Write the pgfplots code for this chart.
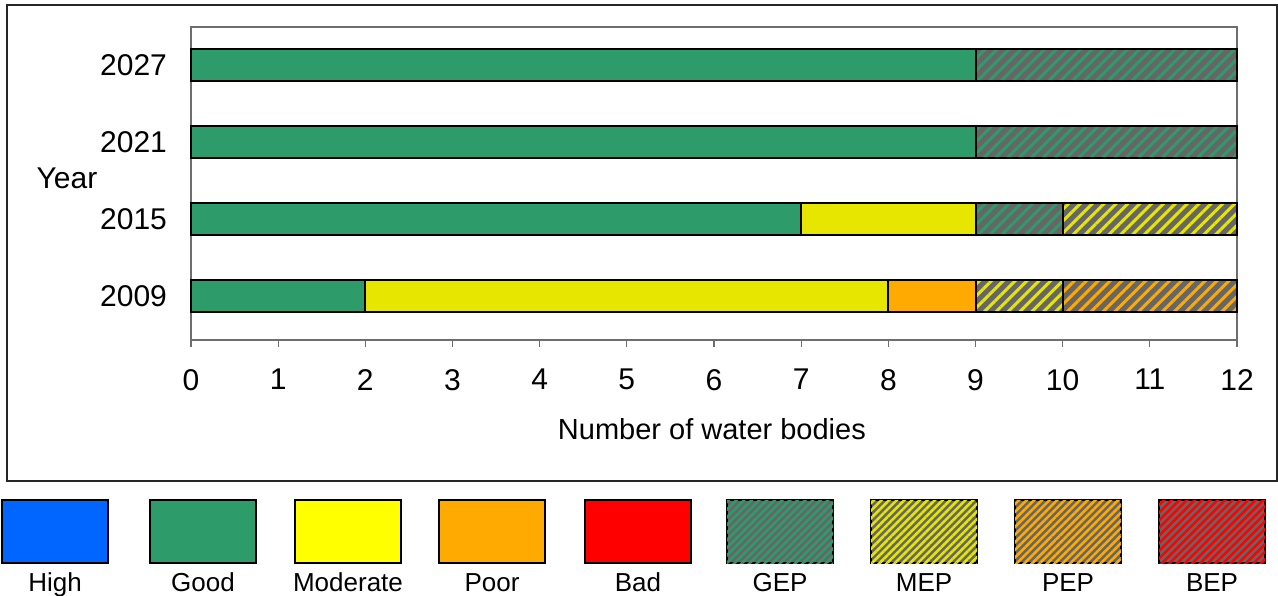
\documentclass[border=0pt]{standalone}
\usepackage{fontspec}
\setmainfont{Liberation Sans}
\usepackage{pgfplots}
\pgfplotsset{compat=1.18}
\usetikzlibrary{patterns.meta}
\definecolor{cHigh}{RGB}{0,102,255}
\definecolor{cGood}{RGB}{46,155,107}
\definecolor{cMod}{RGB}{230,230,0}
\definecolor{cModL}{RGB}{255,255,0}
\definecolor{cPoor}{RGB}{255,170,0}
\definecolor{cBad}{RGB}{255,0,0}
\definecolor{cHatch}{RGB}{102,102,102}
\definecolor{cAxis}{RGB}{110,110,110}
\tikzset{
  barhatch/.style={fill=cHatch, postaction={pattern={Lines[angle=45,distance=4.2pt,line width=1.5pt]}, pattern color=#1}},
  leghatch/.style={fill=cHatch, postaction={pattern={Lines[angle=45,distance=2.7pt,line width=1.3pt]}, pattern color=#1}},
  lgHigh/.style={fill=cHigh},
  lgGood/.style={fill=cGood},
  lgMod/.style={fill=cModL},
  lgPoor/.style={fill=cPoor},
  lgBad/.style={fill=cBad},
  lgGEP/.style={leghatch=cGood},
  lgMEP/.style={leghatch=cMod},
  lgPEP/.style={leghatch=cPoor},
  lgBEP/.style={leghatch=cBad},
}
\begin{document}
\begin{tikzpicture}
\begin{scope}[x=0.5pt,y=-0.5pt]
\useasboundingbox (0,0) rectangle (1278,595);
\draw[black!85, line width=0.7pt] (7,5) rectangle (1277,481);
\foreach \cx/\lab/\sty in {55/High/lgHigh,203/Good/lgGood,348/Moderate/lgMod,492/Poor/lgPoor,638/Bad/lgBad,780/GEP/lgGEP,924/MEP/lgMEP,1068/PEP/lgPEP,1212/BEP/lgBEP}{
  \draw[\sty, line width=1pt] (\cx-53,500) rectangle (\cx+53,563);
  \node[font=\fontsize{13}{15}\selectfont, anchor=base, inner sep=0pt] at (\cx,591) {\lab};
}
\end{scope}
\begin{axis}[
  at={(95.5pt,-170pt)}, anchor=south west,
  scale only axis, width=523pt, height=156.5pt,
  xbar stacked, bar width=16pt,
  xmin=0, xmax=12, ymin=-0.57, ymax=3.49,
  clip=false,
  axis line style={cAxis, line width=0.6pt},
  xtick={0,1,...,12}, xtick pos=lower, tick align=outside,
  major tick length=3.5pt,
  xtick style={cAxis, line width=0.6pt},
  ytick={0,1,2,3}, yticklabels={2009,2015,2021,2027},
  ytick style={draw=none},
  tick label style={font=\fontsize{15}{18}\selectfont},
  /pgf/number format/assume math mode=true,
  yticklabel style={xshift=-5pt},
  xticklabel style={yshift=-7.5pt},
  xlabel={Number of water bodies},
  ylabel={Year},
  every axis x label/.style={at={(axis description cs:0.498,-0.284)}, anchor=center, font=\fontsize{14.5}{17}\selectfont},
  every axis y label/.style={at={(axis description cs:-0.1186,0.5176)}, anchor=center, font=\fontsize{15}{18}\selectfont},
]
\addplot[draw=black, line width=1pt, fill=cGood] coordinates {(2,0) (7,1) (9,2) (9,3)};
\addplot[draw=black, line width=1pt, fill=cMod] coordinates {(6,0) (2,1) (0,2) (0,3)};
\addplot[draw=black, line width=1pt, fill=cPoor] coordinates {(1,0) (0,1) (0,2) (0,3)};
\addplot[draw=black, line width=1pt, barhatch=cGood] coordinates {(0,0) (1,1) (3,2) (3,3)};
\addplot[draw=black, line width=1pt, barhatch=cMod] coordinates {(1,0) (2,1) (0,2) (0,3)};
\addplot[draw=black, line width=1pt, barhatch=cPoor] coordinates {(2,0) (0,1) (0,2) (0,3)};
\end{axis}
\end{tikzpicture}
\end{document}
